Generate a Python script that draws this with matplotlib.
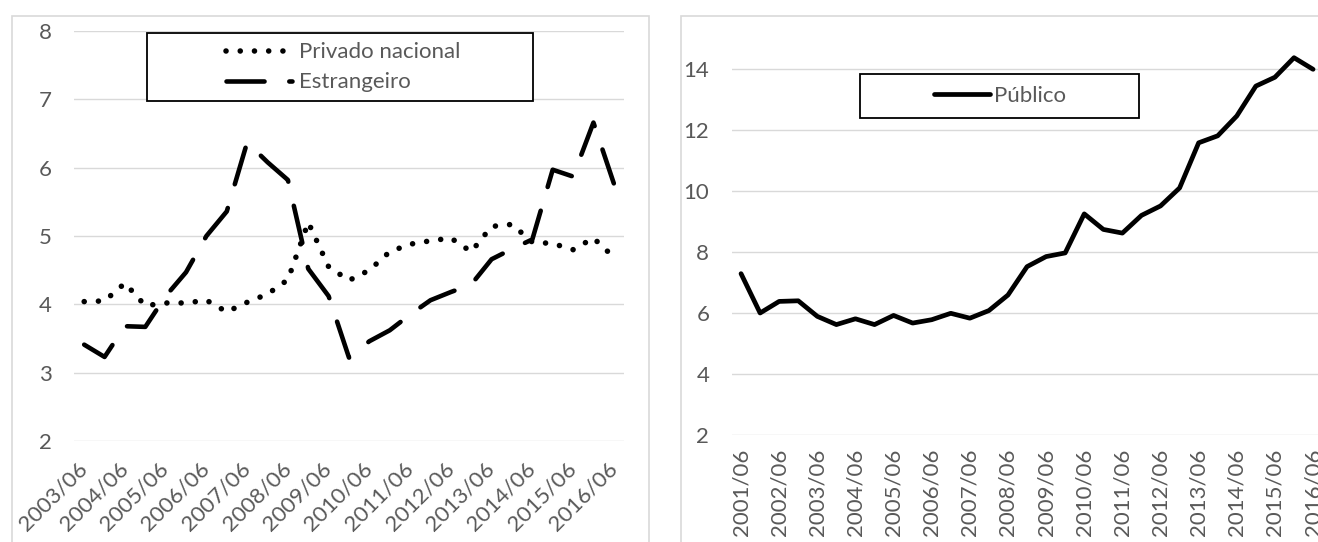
import numpy as np
import matplotlib.pyplot as plt
from matplotlib.patches import Rectangle

plt.rcParams['font.family'] = ['Lato', 'DejaVu Sans']

# Semestres (junho / dezembro)
periodos_esq = [f"{a}/{m}" for a in range(2003, 2017) for m in ("06", "12")][:-1]
periodos_dir = [f"{a}/{m}" for a in range(2001, 2017) for m in ("06", "12")][:-1]

privado = [4.04, 4.05, 4.31, 3.98, 4.02, 4.02, 4.06, 3.89, 4.03, 4.15, 4.36, 5.20, 4.55, 4.35,
           4.50, 4.77, 4.88, 4.93, 4.97, 4.77, 5.14, 5.17, 4.91, 4.89, 4.80, 4.97, 4.69]
estrangeiro = [3.41, 3.23, 3.68, 3.67, 4.12, 4.47, 5.00, 5.36, 6.37, 6.08, 5.82, 4.52, 4.12, 3.22,
               3.46, 3.62, 3.85, 4.06, 4.18, 4.29, 4.66, 4.81, 4.95, 5.97, 5.87, 6.66, 5.77]
publico = [7.29, 6.00, 6.38, 6.40, 5.89, 5.62, 5.81, 5.62, 5.92, 5.67, 5.78, 5.99, 5.83, 6.08, 6.59,
           7.52, 7.85, 7.97, 9.25, 8.74, 8.62, 9.20, 9.51, 10.10, 11.58, 11.81, 12.46, 13.44,
           13.73, 14.37, 13.99]

W, H = 1318, 542
CINZA = '#595959'
GRADE = '#d9d9d9'
FS = 16

fig = plt.figure(figsize=(W / 100, H / 100), dpi=100)


def caixa(x0, y0, x1, y1):
    # pixels a partir do canto superior esquerdo -> fracao da figura
    return [x0 / W, 1 - y1 / H, (x1 - x0) / W, (y1 - y0) / H]


def retangulo(x0, y0, x1, y1, **kw):
    l, b, w, h = caixa(x0, y0, x1, y1)
    r = Rectangle((l, b), w, h, transform=fig.transFigure, **kw)
    fig.add_artist(r)
    return r


# molduras dos dois graficos
retangulo(12, 15.6, 649, 600, fill=False, edgecolor=GRADE, lw=1.2, zorder=0.5)
retangulo(680.7, 15.6, 1400, 600, fill=False, edgecolor=GRADE, lw=1.2, zorder=0.5)

ax1 = fig.add_axes(caixa(74, 31, 624, 441))
ax2 = fig.add_axes(caixa(731.5, 38.5, 1322.6, 435))

for ax in (ax1, ax2):
    for s in ax.spines.values():
        s.set_visible(False)
    ax.grid(axis='y', color=GRADE, lw=1.0)
    ax.set_axisbelow(True)
    ax.tick_params(length=0, labelsize=FS, labelcolor=CINZA)
    ax.tick_params(axis='y', pad=16)

# Grafico da esquerda: privado nacional e estrangeiro
x1 = np.arange(len(periodos_esq))
l1, = ax1.plot(x1, privado, color='black', lw=4.0, linestyle=(0, (0.01, 2.55)),
               dash_capstyle='round', label='Privado nacional')
l2, = ax1.plot(x1, estrangeiro, color='black', lw=3.3, linestyle=(0, (8.3, 5.4)),
               dash_capstyle='round', dash_joinstyle='round', label='Estrangeiro')
ax1.set_xlim(-0.5, len(periodos_esq) - 0.5)
ax1.set_ylim(2, 8)
ax1.set_yticks(range(2, 9))
ax1.set_xticks(x1[::2])
ax1.set_xticklabels(periodos_esq[::2], rotation=45, ha='right', va='center',
                    rotation_mode='anchor')
ax1.tick_params(axis='x', pad=18)

# Grafico da direita: publico
x2 = np.arange(len(periodos_dir))
l3, = ax2.plot(x2, publico, color='black', lw=3.4, solid_joinstyle='round',
               solid_capstyle='round', label='Público')
ax2.set_xlim(-0.5, len(periodos_dir) - 0.5)
ax2.set_ylim(2, 15)
ax2.set_yticks(range(2, 15, 2))
ax2.set_xticks(x2[::2])
ax2.set_xticklabels(periodos_dir[::2], rotation=90, ha='center', va='top')
ax2.tick_params(axis='x', pad=10)

# Legendas com caixa preta
retangulo(147, 33, 532.7, 101, facecolor='white', edgecolor='black', lw=1.3, zorder=2)
retangulo(860, 73.7, 1139.3, 117.6, facecolor='white', edgecolor='black', lw=1.3, zorder=2)

fig.legend(handles=[l1, l2], loc='center left', bbox_to_anchor=(225.7 / W, 1 - 67.5 / H),
           frameon=False, handlelength=3.0, handletextpad=0.3, labelspacing=0.45,
           borderpad=0, borderaxespad=0, fontsize=FS, labelcolor=CINZA)
fig.legend(handles=[l3], loc='center left', bbox_to_anchor=(934 / W, 1 - 95.8 / H),
           frameon=False, handlelength=2.52, handletextpad=0.18,
           borderpad=0, borderaxespad=0, fontsize=FS, labelcolor=CINZA)

fig.savefig('out.png', dpi=100)
